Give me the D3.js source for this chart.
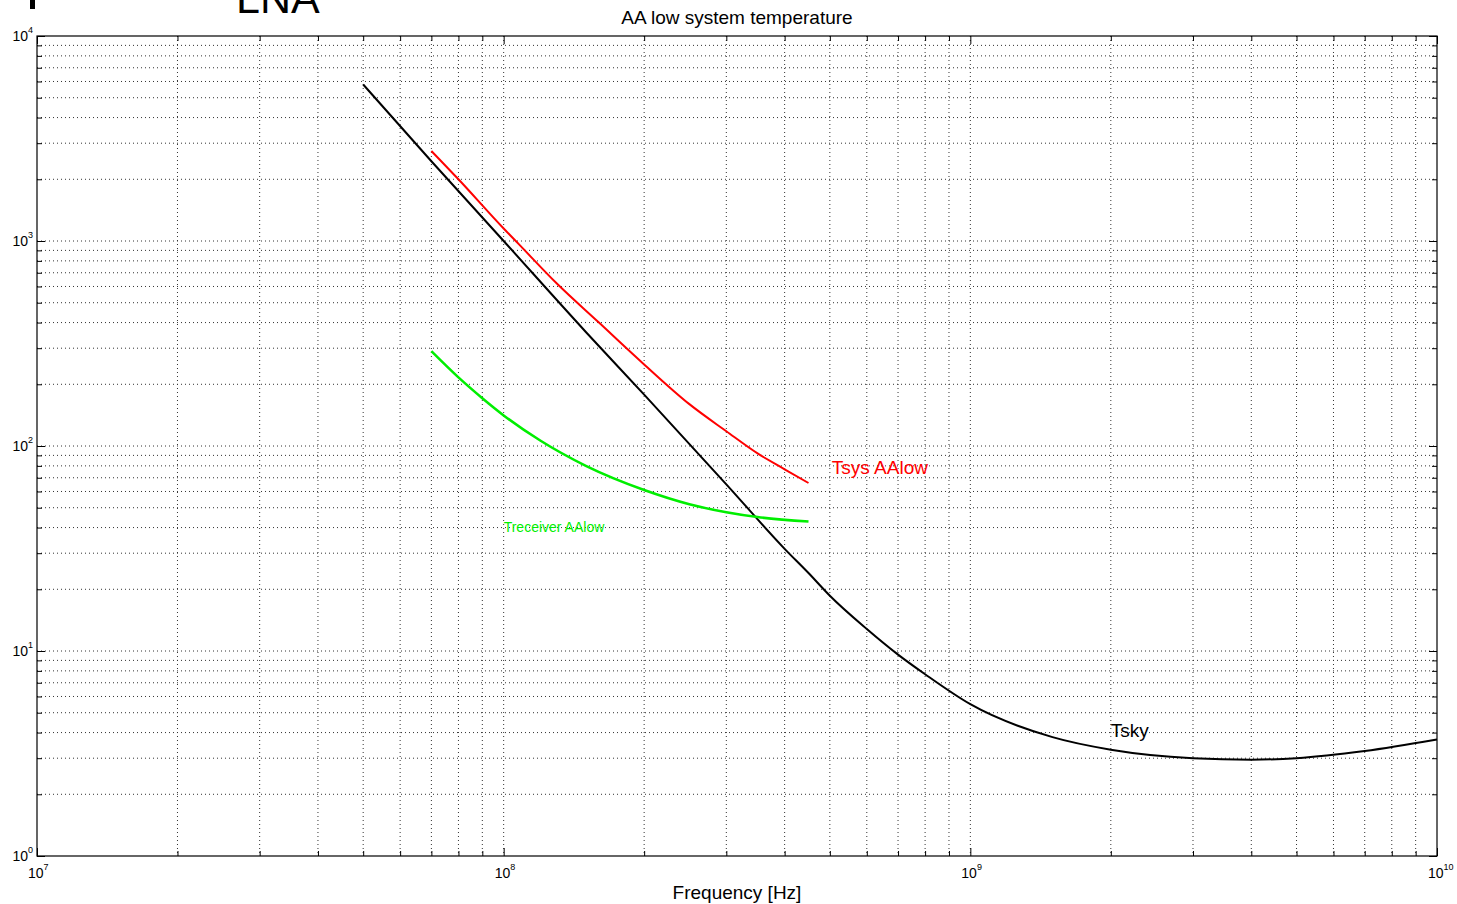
<!DOCTYPE html>
<html>
<head>
<meta charset="utf-8">
<script src="https://cdn.jsdelivr.net/npm/d3@7"></script>
<style>
  body { margin: 0; background: #fff; }
  svg { font-family: "Liberation Sans", Arial, sans-serif; }
</style>
</head>
<body>
<div id="chart"></div>
<script>
// frequencies in Hz, temperatures in K
const skyFreq = [5e7, 7e7, 1e8, 1.5e8, 2e8, 3e8, 4e8, 4.5e8, 5e8, 6e8, 7e8, 8e8, 1e9, 1.5e9, 2e9, 3e9, 4e9, 5e9, 7e9, 1e10];
const skyTemp = [5800, 2450, 1000, 360, 178, 65, 31.5, 24, 18.6, 12.8, 9.6, 7.7, 5.5, 3.8, 3.3, 3.0, 2.95, 3.0, 3.25, 3.7];

const sysFreq = [7e7, 8e7, 1e8, 1.08e8, 1.3e8, 1.6e8, 2e8, 2.5e8, 3e8, 3.5e8, 4e8, 4.5e8];
const sysTemp = [2750, 2000, 1150, 960, 620, 400, 250, 160, 118, 92, 77, 66];

const rcvFreq = [7e7, 8e7, 9e7, 1e8, 1.2e8, 1.5e8, 2e8, 2.5e8, 3e8, 3.5e8, 4.5e8];
const rcvTemp = [290, 216, 171, 141, 106, 80, 61, 52, 47.5, 45, 42.8];

const xDecades = [7, 8, 9, 10];
const yDecades = [0, 1, 2, 3, 4];

const width = 1457, height = 904;
const margin = {top: 36, right: 20, bottom: 48, left: 37};

const x = d3.scaleLog()
  .domain([1e7, 1e10])
  .range([margin.left, width - margin.right]);

const y = d3.scaleLog()
  .domain([1, 1e4])
  .range([height - margin.bottom, margin.top]);

const svg = d3.select("#chart")
  .append("svg")
  .attr("width", width)
  .attr("height", height);

// all 1..9 ticks of each decade
const minorX = [];
xDecades.slice(0, -1).forEach(e => { for (let k = 1; k < 10; k++) minorX.push(k * Math.pow(10, e)); });
minorX.push(1e10);
const minorY = [];
yDecades.slice(0, -1).forEach(e => { for (let k = 1; k < 10; k++) minorY.push(k * Math.pow(10, e)); });
minorY.push(1e4);

// dotted grid
svg.append("g")
  .selectAll("line")
  .data(minorX.slice(1, -1))
  .enter()
  .append("line")
  .attr("x1", d => x(d)).attr("x2", d => x(d))
  .attr("y1", y(1e4)).attr("y2", y(1))
  .attr("stroke", "#333")
  .attr("stroke-width", 1)
  .attr("stroke-dasharray", "1,3");

svg.append("g")
  .selectAll("line")
  .data(minorY.slice(1, -1))
  .enter()
  .append("line")
  .attr("x1", x(1e7)).attr("x2", x(1e10))
  .attr("y1", d => y(d)).attr("y2", d => y(d))
  .attr("stroke", "#333")
  .attr("stroke-width", 1)
  .attr("stroke-dasharray", "1,3");

// tick marks on four sides
const tickLen = d => (Number.isInteger(Math.log10(d)) ? 8 : 5);
svg.append("g")
  .attr("transform", `translate(0,${y(1)})`)
  .call(d3.axisBottom(x).tickValues(minorX).tickFormat("").tickSizeOuter(0).tickSizeInner(-5))
  .call(g => g.selectAll(".tick line").attr("y2", d => -tickLen(d)))
  .call(g => g.select(".domain").remove());
svg.append("g")
  .attr("transform", `translate(0,${y(1e4)})`)
  .call(d3.axisTop(x).tickValues(minorX).tickFormat("").tickSizeOuter(0).tickSizeInner(-5))
  .call(g => g.selectAll(".tick line").attr("y2", d => tickLen(d)))
  .call(g => g.select(".domain").remove());
svg.append("g")
  .attr("transform", `translate(${x(1e7)},0)`)
  .call(d3.axisLeft(y).tickValues(minorY).tickFormat("").tickSizeOuter(0).tickSizeInner(-5))
  .call(g => g.selectAll(".tick line").attr("x2", d => tickLen(d)))
  .call(g => g.select(".domain").remove());
svg.append("g")
  .attr("transform", `translate(${x(1e10)},0)`)
  .call(d3.axisRight(y).tickValues(minorY).tickFormat("").tickSizeOuter(0).tickSizeInner(-5))
  .call(g => g.selectAll(".tick line").attr("x2", d => -tickLen(d)))
  .call(g => g.select(".domain").remove());

// box
svg.append("rect")
  .attr("x", x(1e7)).attr("y", y(1e4))
  .attr("width", x(1e10) - x(1e7))
  .attr("height", y(1) - y(1e4))
  .attr("fill", "none")
  .attr("stroke", "#000")
  .attr("stroke-width", 1.2);

// tick labels 10^n
const xl = svg.append("g").selectAll("text")
  .data(xDecades)
  .enter()
  .append("text")
  .attr("x", d => x(Math.pow(10, d)) - 9)
  .attr("y", y(1) + 22)
  .attr("font-size", 14)
  .attr("fill", "#000");
xl.append("tspan").text("10");
xl.append("tspan").attr("dy", -8).attr("font-size", 9).text(d => d);

const yl = svg.append("g").selectAll("text")
  .data(yDecades)
  .enter()
  .append("text")
  .attr("x", x(1e7) - 4)
  .attr("y", d => y(Math.pow(10, d)) + 5)
  .attr("text-anchor", "end")
  .attr("font-size", 14)
  .attr("fill", "#000");
yl.append("tspan").text("10");
yl.append("tspan").attr("dy", -8).attr("font-size", 9).text(d => d);

// curves
const line = d3.line()
  .x(d => x(d[0]))
  .y(d => y(d[1]))
  .curve(d3.curveMonotoneX);

svg.append("path")
  .datum(d3.zip(skyFreq, skyTemp))
  .attr("d", line)
  .attr("fill", "none")
  .attr("stroke", "#000")
  .attr("stroke-width", 2);

svg.append("path")
  .datum(d3.zip(rcvFreq, rcvTemp))
  .attr("d", line)
  .attr("fill", "none")
  .attr("stroke", "#00ee00")
  .attr("stroke-width", 2.5);

svg.append("path")
  .datum(d3.zip(sysFreq, sysTemp))
  .attr("d", line)
  .attr("fill", "none")
  .attr("stroke", "#ff0000")
  .attr("stroke-width", 2);

// curve labels
svg.append("text")
  .attr("x", x(5.05e8)).attr("y", y(66) - 9)
  .attr("font-size", 19)
  .attr("fill", "#ff0000")
  .text("Tsys AAlow");

svg.append("text")
  .attr("x", x(1e8)).attr("y", y(38))
  .attr("font-size", 14)
  .attr("fill", "#00ee00")
  .text("Treceiver AAlow");

svg.append("text")
  .attr("x", x(2e9)).attr("y", y(3.3) - 13)
  .attr("font-size", 19)
  .attr("fill", "#000")
  .text("Tsky");

// title and axis label
svg.append("text")
  .attr("x", (x(1e7) + x(1e10)) / 2)
  .attr("y", 24)
  .attr("text-anchor", "middle")
  .attr("font-size", 19)
  .text("AA low system temperature");

svg.append("text")
  .attr("x", (x(1e7) + x(1e10)) / 2)
  .attr("y", 899)
  .attr("text-anchor", "middle")
  .attr("font-size", 19)
  .text("Frequency [Hz]");

// slide leftovers at the top
svg.append("rect")
  .attr("x", 30).attr("y", 0)
  .attr("width", 5).attr("height", 9)
  .attr("fill", "#000");

svg.append("text")
  .attr("x", 236).attr("y", 13)
  .attr("font-size", 43)
  .attr("fill", "#000")
  .text("LNA");
</script>
</body>
</html>
